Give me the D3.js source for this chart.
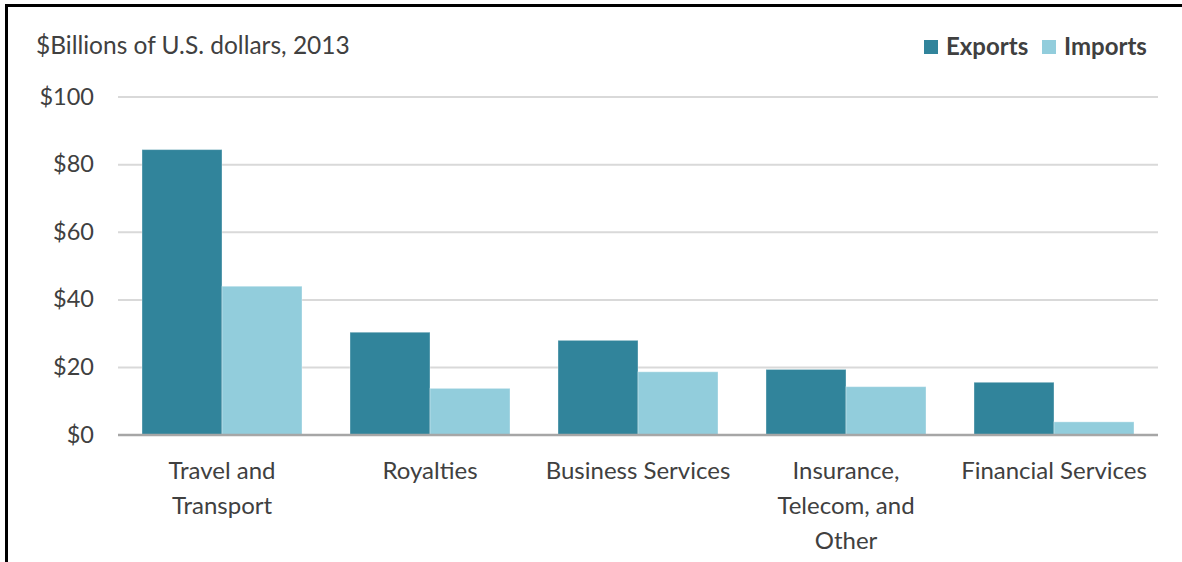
<!DOCTYPE html>
<html>
<head>
<meta charset="utf-8">
<script src="https://cdn.jsdelivr.net/npm/d3@7"></script>
<style>
  html, body { margin: 0; padding: 0; background: #fff; }
  svg { display: block; }
  text { font-family: Lato, "Open Sans", sans-serif; fill: #404040; }
</style>
</head>
<body>
<svg id="chart" width="1182" height="562"></svg>
<script>
// Services trade, 2013 ($ billions)
const categories = [
  ["Travel and", "Transport"],
  ["Royalties"],
  ["Business Services"],
  ["Insurance,", "Telecom, and", "Other"],
  ["Financial Services"]
];
const seriesNames = ["Exports", "Imports"];
const exportsValues = [84.3, 30.3, 27.9, 19.3, 15.5];
const importsValues = [43.9, 13.7, 18.6, 14.2, 3.8];
const yTicks = [0, 20, 40, 60, 80, 100];
const yTickLabels = ["$0", "$20", "$40", "$60", "$80", "$100"];
const colors = ["#31849B", "#92CDDC"];
const title = "$Billions of U.S. dollars, 2013";

const svg = d3.select("#chart");
const W = 1182, H = 562;
const plot = { left: 118, right: 1158, top: 96.5, bottom: 434.7 };

const rows = categories.map((c, i) => ({
  key: i, label: c, values: [exportsValues[i], importsValues[i]]
}));

const x0 = d3.scaleBand()
  .domain(rows.map(d => d.key))
  .range([plot.left, plot.right])
  .paddingInner(0.2308)
  .paddingOuter(0.1154);
const x1 = d3.scaleBand()
  .domain([0, 1])
  .range([0, x0.bandwidth()]);
const y = d3.scaleLinear().domain([0, 100]).range([plot.bottom, plot.top]);

// frame
svg.append("path")
  .attr("d", `M6.5,${H} V5.5 H${W}`)
  .attr("fill", "none")
  .attr("stroke", "#000")
  .attr("stroke-width", 3);

// gridlines + y labels
const yAxis = d3.axisLeft(y)
  .tickValues(yTicks)
  .tickFormat((d, i) => yTickLabels[i])
  .tickSize(-(plot.right - plot.left))
  .tickPadding(24);
const gy = svg.append("g")
  .attr("transform", `translate(${plot.left},0)`)
  .call(yAxis);
gy.select(".domain").remove();
gy.selectAll(".tick line")
  .attr("stroke", d => d === 0 ? "#a6a6a6" : "#d9d9d9")
  .attr("stroke-width", 2);
gy.selectAll(".tick text")
  .attr("font-size", 23.5)
  .attr("fill", "#404040")
  .style("font-family", "Lato, sans-serif");

// bars
const groups = svg.append("g").selectAll("g")
  .data(rows).join("g")
  .attr("transform", d => `translate(${x0(d.key)},0)`);
groups.selectAll("rect")
  .data(d => d.values.map((v, j) => ({ j, v })))
  .join("rect")
  .attr("x", d => x1(d.j))
  .attr("width", x1.bandwidth())
  .attr("y", d => y(d.v))
  .attr("height", d => y(0) - y(d.v))
  .attr("fill", d => colors[d.j])
  .attr("stroke", "#ffffff")
  .attr("stroke-opacity", 0.35)
  .attr("stroke-width", 1);

// baseline drawn over bars
svg.append("line")
  .attr("x1", plot.left).attr("x2", plot.right)
  .attr("y1", y(0)).attr("y2", y(0))
  .attr("stroke", "#a6a6a6").attr("stroke-width", 2);

// category labels
const xAxis = d3.axisBottom(x0).tickSize(0).tickFormat("");
const gx = svg.append("g")
  .attr("transform", `translate(0,${plot.bottom})`)
  .call(xAxis);
gx.select(".domain").remove();
gx.selectAll(".tick").each(function(k) {
  const t = d3.select(this).append("text")
    .attr("text-anchor", "middle")
    .attr("font-size", 24)
    .attr("fill", "#404040")
    .style("font-family", "Lato, sans-serif");
  rows[k].label.forEach((line, i) => {
    t.append("tspan").attr("x", 0).attr("y", 44 + i * 35).text(line);
  });
});

// title
svg.append("text")
  .attr("x", 36).attr("y", 54)
  .attr("font-size", 24.5)
  .text(title);

// legend
const legendItems = [
  { name: seriesNames[0], color: colors[0], x: 924 },
  { name: seriesNames[1], color: colors[1], x: 1042 }
];
const lg = svg.append("g");
legendItems.forEach(it => {
  lg.append("rect")
    .attr("x", it.x).attr("y", 40)
    .attr("width", 14).attr("height", 14)
    .attr("fill", it.color);
  lg.append("text")
    .attr("x", it.x + 22).attr("y", 55)
    .attr("font-size", 24)
    .attr("font-weight", "bold")
    .text(it.name);
});
</script>
</body>
</html>
